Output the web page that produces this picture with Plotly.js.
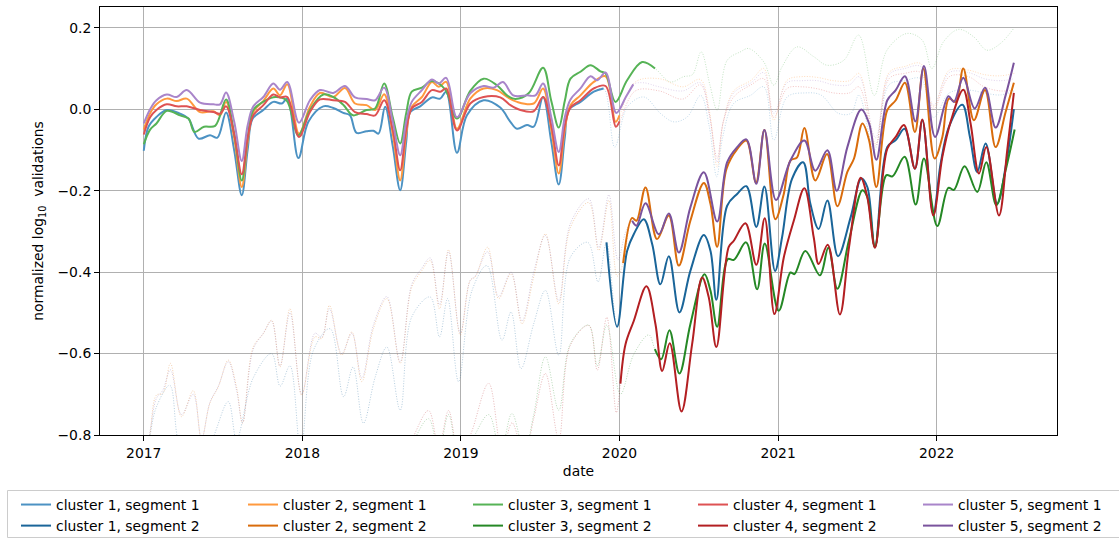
<!DOCTYPE html>
<html><head><meta charset="utf-8">
<script src="https://cdn.plot.ly/plotly-3.0.1.min.js"></script>
<style>html,body{margin:0;padding:0;background:#fff}#chart{width:1119px;height:538px}</style>
</head><body><div id="chart"></div>
<script>
// ---- categories / labels ----
const clusterNames = ['cluster 1', 'cluster 2', 'cluster 3', 'cluster 4', 'cluster 5'];
const segmentNames = ['segment 1', 'segment 2'];
const xTickVals = [2017, 2018, 2019, 2020, 2021, 2022];
const yTickVals = [-0.8, -0.6, -0.4, -0.2, 0.0, 0.2];

// ---- series values: [decimal year, normalized log10 validations] ----
const c1s1 = [[2017.0,-0.102],[2017.03,-0.043],[2017.08,-0.019],[2017.145,-0.002],[2017.229,-0.011],[2017.282,-0.023],[2017.345,-0.072],[2017.418,-0.064],[2017.464,-0.07],[2017.519,-0.008],[2017.57,-0.1],[2017.618,-0.211],[2017.655,-0.1],[2017.687,-0.023],[2017.754,-0.002],[2017.817,0.018],[2017.87,0.014],[2017.905,0.026],[2017.975,-0.12],[2018.038,-0.031],[2018.132,0.007],[2018.195,0.003],[2018.258,-0.009],[2018.3,-0.015],[2018.342,-0.058],[2018.405,-0.054],[2018.448,-0.053],[2018.48,-0.06],[2018.522,0.006],[2018.57,-0.09],[2018.617,-0.199],[2018.655,-0.08],[2018.68,-0.007],[2018.743,0.007],[2018.817,0.029],[2018.869,0.026],[2018.907,0.043],[2018.975,-0.107],[2019.038,-0.015],[2019.143,0.022],[2019.248,0.004],[2019.312,-0.031],[2019.354,-0.048],[2019.417,-0.039],[2019.459,-0.043],[2019.518,0.03],[2019.57,-0.08],[2019.617,-0.185],[2019.655,-0.07],[2019.68,-0.002],[2019.754,0.018],[2019.838,0.043],[2019.9,0.051],[2019.97,-0.093],[2020.05,0.006],[2020.154,0.03],[2020.26,-0.011],[2020.343,-0.031],[2020.427,-0.019],[2020.512,0.034],[2020.565,-0.04],[2020.613,-0.166],[2020.65,-0.07],[2020.72,0.014],[2020.826,0.034],[2020.91,0.055],[2020.973,-0.076],[2021.057,0.03],[2021.17,0.04],[2021.27,0.035],[2021.38,-0.01],[2021.46,-0.01],[2021.51,0.035],[2021.607,-0.1],[2021.7,0.06],[2021.8,0.07],[2021.9,0.075],[2021.98,-0.02],[2022.08,0.04],[2022.2,0.047],[2022.3,0.04],[2022.4,0.035],[2022.49,0.045]];
const c2s1 = [[2017.0,-0.05],[2017.04,-0.01],[2017.08,0.012],[2017.145,0.026],[2017.208,0.02],[2017.271,0.026],[2017.355,-0.007],[2017.439,-0.005],[2017.481,-0.015],[2017.519,0.018],[2017.57,-0.07],[2017.618,-0.191],[2017.655,-0.08],[2017.691,-0.007],[2017.754,0.02],[2017.817,0.051],[2017.859,0.034],[2017.905,0.061],[2017.979,-0.06],[2018.048,0.006],[2018.111,0.04],[2018.195,0.03],[2018.269,0.052],[2018.332,0.014],[2018.405,0.01],[2018.459,-0.002],[2018.516,0.037],[2018.57,-0.06],[2018.617,-0.175],[2018.655,-0.06],[2018.69,0.006],[2018.754,0.03],[2018.817,0.067],[2018.86,0.055],[2018.907,0.067],[2018.975,-0.048],[2019.059,0.026],[2019.143,0.051],[2019.227,0.047],[2019.291,0.03],[2019.354,0.018],[2019.459,0.014],[2019.518,0.051],[2019.57,-0.05],[2019.617,-0.158],[2019.655,-0.05],[2019.691,0.01],[2019.754,0.034],[2019.838,0.067],[2019.912,0.081],[2019.975,-0.031],[2020.0,-0.015],[2020.1,0.067],[2020.25,0.075],[2020.4,0.055],[2020.51,0.073],[2020.565,0.0],[2020.616,-0.142],[2020.655,-0.03],[2020.72,0.045],[2020.83,0.071],[2020.91,0.1],[2020.973,-0.027],[2021.057,0.071],[2021.15,0.08],[2021.25,0.078],[2021.35,0.07],[2021.45,0.07],[2021.51,0.088],[2021.615,-0.085],[2021.7,0.09],[2021.8,0.105],[2021.9,0.112],[2021.98,0.006],[2022.08,0.096],[2022.2,0.096],[2022.3,0.085],[2022.4,0.082],[2022.49,0.088]];
const c3s1 = [[2017.0,-0.086],[2017.04,-0.05],[2017.08,-0.035],[2017.145,-0.004],[2017.229,-0.015],[2017.282,-0.023],[2017.32,-0.056],[2017.38,-0.043],[2017.45,-0.041],[2017.519,0.024],[2017.57,-0.06],[2017.618,-0.175],[2017.655,-0.07],[2017.691,-0.002],[2017.77,0.022],[2017.83,0.03],[2017.9,0.022],[2017.975,-0.064],[2018.048,-0.002],[2018.132,0.036],[2018.195,0.03],[2018.258,0.011],[2018.32,-0.015],[2018.405,-0.002],[2018.459,0.002],[2018.516,0.063],[2018.57,-0.02],[2018.617,-0.084],[2018.655,-0.01],[2018.69,0.043],[2018.754,0.053],[2018.817,0.069],[2018.901,0.048],[2018.975,-0.023],[2019.059,0.045],[2019.143,0.075],[2019.227,0.059],[2019.291,0.034],[2019.343,0.025],[2019.427,0.039],[2019.518,0.102],[2019.57,0.02],[2019.617,-0.045],[2019.655,0.02],[2019.691,0.075],[2019.754,0.092],[2019.817,0.108],[2019.88,0.093],[2019.912,0.088],[2019.975,0.018],[2020.048,0.071],[2020.143,0.116],[2020.224,0.1],[2020.32,0.067],[2020.405,0.08],[2020.46,0.085],[2020.515,0.141],[2020.57,0.06],[2020.616,-0.002],[2020.679,0.12],[2020.763,0.141],[2020.815,0.149],[2020.91,0.116],[2020.973,0.059],[2021.025,0.104],[2021.12,0.153],[2021.225,0.129],[2021.309,0.108],[2021.414,0.12],[2021.508,0.182],[2021.607,0.034],[2021.687,0.145],[2021.813,0.186],[2021.908,0.17],[2021.97,0.1],[2022.044,0.166],[2022.139,0.196],[2022.233,0.178],[2022.317,0.145],[2022.401,0.161],[2022.485,0.198]];
const c4s1 = [[2017.0,-0.062],[2017.04,-0.02],[2017.08,-0.002],[2017.145,0.012],[2017.208,0.007],[2017.271,0.007],[2017.355,-0.002],[2017.439,-0.007],[2017.481,-0.011],[2017.519,0.007],[2017.57,-0.06],[2017.618,-0.16],[2017.655,-0.07],[2017.691,-0.015],[2017.754,0.01],[2017.817,0.036],[2017.859,0.029],[2017.905,0.03],[2017.979,-0.068],[2018.048,-0.007],[2018.111,0.024],[2018.195,0.022],[2018.269,0.018],[2018.332,-0.007],[2018.405,-0.012],[2018.459,-0.015],[2018.516,0.022],[2018.57,-0.05],[2018.617,-0.15],[2018.655,-0.05],[2018.69,0.002],[2018.754,0.018],[2018.817,0.047],[2018.87,0.043],[2018.907,0.051],[2018.975,-0.052],[2019.059,0.014],[2019.143,0.03],[2019.248,0.029],[2019.312,0.01],[2019.375,-0.002],[2019.459,-0.005],[2019.518,0.03],[2019.57,-0.04],[2019.617,-0.138],[2019.655,-0.04],[2019.691,0.004],[2019.754,0.022],[2019.838,0.051],[2019.912,0.057],[2019.977,-0.043],[2020.0,-0.03],[2020.1,0.045],[2020.25,0.045],[2020.4,0.025],[2020.51,0.06],[2020.565,-0.01],[2020.616,-0.12],[2020.655,-0.03],[2020.72,0.03],[2020.83,0.06],[2020.91,0.075],[2020.973,-0.02],[2021.057,0.051],[2021.15,0.055],[2021.25,0.05],[2021.35,0.04],[2021.45,0.04],[2021.51,0.055],[2021.615,-0.09],[2021.7,0.075],[2021.8,0.088],[2021.9,0.09],[2021.98,0.0],[2022.08,0.08],[2022.2,0.08],[2022.3,0.055],[2022.4,0.045],[2022.49,0.047]];
const c5s1 = [[2017.0,-0.035],[2017.04,0.0],[2017.08,0.022],[2017.145,0.036],[2017.208,0.03],[2017.271,0.047],[2017.355,0.016],[2017.439,0.012],[2017.481,0.012],[2017.519,0.041],[2017.57,-0.03],[2017.618,-0.127],[2017.655,-0.04],[2017.691,0.007],[2017.754,0.03],[2017.817,0.063],[2017.859,0.048],[2017.905,0.067],[2017.979,-0.033],[2018.048,0.022],[2018.111,0.047],[2018.195,0.04],[2018.269,0.057],[2018.332,0.029],[2018.405,0.025],[2018.459,0.022],[2018.516,0.053],[2018.57,-0.03],[2018.617,-0.113],[2018.655,-0.03],[2018.69,0.018],[2018.754,0.047],[2018.817,0.073],[2018.86,0.063],[2018.907,0.077],[2018.975,-0.02],[2019.059,0.039],[2019.143,0.057],[2019.206,0.053],[2019.265,0.067],[2019.33,0.034],[2019.42,0.034],[2019.47,0.034],[2019.518,0.063],[2019.57,-0.02],[2019.617,-0.105],[2019.655,-0.02],[2019.691,0.024],[2019.754,0.051],[2019.817,0.081],[2019.86,0.071],[2019.912,0.09],[2019.98,-0.009],[2020.04,0.03],[2020.087,0.061],[2020.15,0.065],[2020.25,0.055],[2020.4,0.045],[2020.51,0.065],[2020.565,-0.01],[2020.616,-0.13],[2020.655,-0.03],[2020.72,0.04],[2020.83,0.065],[2020.91,0.09],[2020.973,-0.01],[2021.057,0.065],[2021.15,0.07],[2021.25,0.07],[2021.35,0.06],[2021.45,0.06],[2021.51,0.08],[2021.615,-0.07],[2021.7,0.085],[2021.8,0.1],[2021.9,0.105],[2021.98,0.01],[2022.08,0.09],[2022.2,0.09],[2022.3,0.075],[2022.4,0.07],[2022.49,0.075]];

const c1s2 = [[2017.0,-0.9],[2017.04,-0.8],[2017.08,-0.731],[2017.164,-0.678],[2017.22,-0.82],[2017.3,-0.88],[2017.42,-0.82],[2017.533,-0.718],[2017.585,-0.81],[2017.69,-0.66],[2017.806,-0.6],[2017.86,-0.68],[2017.922,-0.63],[2017.99,-0.84],[2018.07,-0.592],[2018.175,-0.539],[2018.26,-0.706],[2018.32,-0.633],[2018.385,-0.771],[2018.46,-0.657],[2018.533,-0.584],[2018.617,-0.739],[2018.69,-0.51],[2018.806,-0.461],[2018.865,-0.559],[2018.916,-0.465],[2018.985,-0.669],[2019.07,-0.445],[2019.164,-0.384],[2019.259,-0.567],[2019.316,-0.498],[2019.379,-0.637],[2019.459,-0.527],[2019.533,-0.445],[2019.617,-0.604],[2019.691,-0.363],[2019.8,-0.327],[2019.865,-0.424],[2019.918,-0.327],[2019.985,-0.534],[2020.048,-0.348],[2020.09,-0.307],[2020.153,-0.27],[2020.206,-0.331],[2020.258,-0.43],[2020.311,-0.361],[2020.378,-0.499],[2020.447,-0.397],[2020.532,-0.309],[2020.574,-0.348],[2020.611,-0.468],[2020.679,-0.237],[2020.742,-0.208],[2020.8,-0.189],[2020.863,-0.289],[2020.914,-0.19],[2020.981,-0.397],[2021.025,-0.315],[2021.088,-0.171],[2021.158,-0.13],[2021.204,-0.233],[2021.256,-0.294],[2021.311,-0.224],[2021.378,-0.361],[2021.458,-0.265],[2021.525,-0.17],[2021.563,-0.191],[2021.611,-0.339],[2021.689,-0.093],[2021.742,-0.076],[2021.798,-0.048],[2021.863,-0.146],[2021.91,-0.027],[2021.979,-0.257],[2022.025,-0.134],[2022.078,-0.043],[2022.162,0.011],[2022.21,-0.068],[2022.256,-0.154],[2022.309,-0.084],[2022.382,-0.232],[2022.435,-0.142],[2022.487,0.0]];
const c2s2 = [[2017.0,-0.9],[2017.04,-0.796],[2017.08,-0.702],[2017.12,-0.698],[2017.168,-0.624],[2017.238,-0.755],[2017.312,-0.691],[2017.364,-0.81],[2017.417,-0.722],[2017.47,-0.682],[2017.533,-0.616],[2017.585,-0.682],[2017.623,-0.771],[2017.69,-0.584],[2017.754,-0.551],[2017.806,-0.518],[2017.859,-0.633],[2017.922,-0.49],[2017.996,-0.702],[2018.08,-0.559],[2018.122,-0.563],[2018.171,-0.482],[2018.248,-0.604],[2018.312,-0.547],[2018.375,-0.669],[2018.448,-0.539],[2018.533,-0.465],[2018.617,-0.624],[2018.69,-0.437],[2018.754,-0.396],[2018.806,-0.371],[2018.865,-0.49],[2018.922,-0.345],[2018.996,-0.555],[2019.059,-0.42],[2019.09,-0.412],[2019.168,-0.339],[2019.238,-0.465],[2019.316,-0.404],[2019.385,-0.527],[2019.459,-0.412],[2019.533,-0.306],[2019.617,-0.478],[2019.691,-0.29],[2019.806,-0.229],[2019.869,-0.347],[2019.933,-0.224],[2019.985,-0.41],[2020.023,-0.378],[2020.08,-0.267],[2020.107,-0.274],[2020.164,-0.192],[2020.237,-0.319],[2020.311,-0.261],[2020.374,-0.384],[2020.447,-0.274],[2020.532,-0.181],[2020.574,-0.233],[2020.616,-0.338],[2020.674,-0.147],[2020.742,-0.098],[2020.8,-0.077],[2020.861,-0.18],[2020.914,-0.051],[2020.983,-0.27],[2021.036,-0.208],[2021.078,-0.126],[2021.12,-0.118],[2021.166,-0.046],[2021.235,-0.175],[2021.309,-0.11],[2021.374,-0.238],[2021.437,-0.154],[2021.479,-0.121],[2021.532,-0.035],[2021.574,-0.076],[2021.62,-0.191],[2021.689,-0.002],[2021.742,0.022],[2021.8,0.065],[2021.863,-0.056],[2021.916,0.1],[2021.987,-0.121],[2022.036,-0.068],[2022.078,0.026],[2022.12,0.018],[2022.168,0.1],[2022.235,-0.027],[2022.305,0.047],[2022.372,-0.093],[2022.435,-0.007],[2022.487,0.065]];
const c3s2 = [[2018.5,-0.95],[2018.68,-0.83],[2018.796,-0.76],[2018.86,-0.84],[2018.922,-0.75],[2018.99,-0.86],[2019.06,-0.82],[2019.175,-0.75],[2019.25,-0.84],[2019.322,-0.747],[2019.4,-0.84],[2019.459,-0.75],[2019.533,-0.608],[2019.617,-0.739],[2019.69,-0.576],[2019.806,-0.53],[2019.86,-0.63],[2019.92,-0.53],[2020.006,-0.7],[2020.09,-0.602],[2020.185,-0.554],[2020.223,-0.589],[2020.263,-0.614],[2020.315,-0.543],[2020.378,-0.649],[2020.447,-0.528],[2020.536,-0.405],[2020.574,-0.446],[2020.616,-0.534],[2020.683,-0.368],[2020.721,-0.37],[2020.798,-0.327],[2020.868,-0.442],[2020.916,-0.33],[2021.004,-0.495],[2021.078,-0.401],[2021.103,-0.405],[2021.172,-0.348],[2021.264,-0.408],[2021.317,-0.34],[2021.374,-0.441],[2021.447,-0.322],[2021.532,-0.199],[2021.563,-0.216],[2021.611,-0.337],[2021.683,-0.162],[2021.721,-0.165],[2021.798,-0.117],[2021.868,-0.234],[2021.92,-0.121],[2022.004,-0.287],[2022.074,-0.193],[2022.109,-0.198],[2022.176,-0.14],[2022.256,-0.203],[2022.313,-0.13],[2022.376,-0.236],[2022.435,-0.15],[2022.492,-0.05]];
const c4s2 = [[2018.5,-0.95],[2018.68,-0.82],[2018.796,-0.74],[2018.86,-0.83],[2018.922,-0.74],[2018.99,-0.85],[2019.06,-0.8],[2019.175,-0.673],[2019.26,-0.84],[2019.322,-0.77],[2019.4,-0.85],[2019.459,-0.76],[2019.533,-0.649],[2019.617,-0.81],[2019.69,-0.58],[2019.806,-0.531],[2019.86,-0.641],[2019.92,-0.511],[2019.98,-0.745],[2020.006,-0.674],[2020.038,-0.577],[2020.09,-0.52],[2020.17,-0.435],[2020.227,-0.528],[2020.269,-0.643],[2020.317,-0.575],[2020.391,-0.742],[2020.458,-0.577],[2020.521,-0.413],[2020.563,-0.462],[2020.611,-0.584],[2020.689,-0.338],[2020.721,-0.323],[2020.794,-0.28],[2020.863,-0.382],[2020.916,-0.268],[2020.977,-0.503],[2021.036,-0.364],[2021.099,-0.274],[2021.166,-0.194],[2021.225,-0.315],[2021.256,-0.38],[2021.313,-0.333],[2021.39,-0.504],[2021.447,-0.34],[2021.521,-0.168],[2021.563,-0.216],[2021.611,-0.34],[2021.689,-0.097],[2021.742,-0.068],[2021.794,-0.039],[2021.863,-0.146],[2021.91,-0.025],[2021.979,-0.261],[2022.036,-0.117],[2022.088,-0.031],[2022.168,0.048],[2022.214,-0.035],[2022.267,-0.158],[2022.313,-0.093],[2022.393,-0.261],[2022.445,-0.101],[2022.487,0.04]];
const c5s2 = [[2017.0,-0.89],[2017.04,-0.79],[2017.08,-0.71],[2017.12,-0.69],[2017.168,-0.64],[2017.238,-0.75],[2017.312,-0.7],[2017.364,-0.81],[2017.417,-0.72],[2017.47,-0.68],[2017.533,-0.62],[2017.585,-0.69],[2017.623,-0.77],[2017.69,-0.59],[2017.754,-0.55],[2017.806,-0.52],[2017.859,-0.63],[2017.922,-0.5],[2017.996,-0.7],[2018.08,-0.55],[2018.122,-0.56],[2018.171,-0.49],[2018.248,-0.6],[2018.312,-0.55],[2018.375,-0.66],[2018.448,-0.53],[2018.533,-0.46],[2018.617,-0.62],[2018.69,-0.43],[2018.754,-0.39],[2018.806,-0.365],[2018.865,-0.48],[2018.922,-0.35],[2018.996,-0.55],[2019.059,-0.42],[2019.09,-0.41],[2019.168,-0.35],[2019.238,-0.46],[2019.316,-0.4],[2019.385,-0.52],[2019.459,-0.4],[2019.533,-0.31],[2019.617,-0.47],[2019.691,-0.28],[2019.806,-0.22],[2019.869,-0.34],[2019.933,-0.21],[2019.99,-0.37],[2020.04,-0.3],[2020.08,-0.274],[2020.107,-0.286],[2020.164,-0.231],[2020.248,-0.307],[2020.311,-0.256],[2020.374,-0.352],[2020.447,-0.241],[2020.532,-0.155],[2020.616,-0.276],[2020.679,-0.13],[2020.742,-0.093],[2020.8,-0.074],[2020.863,-0.183],[2020.914,-0.051],[2020.987,-0.223],[2021.078,-0.126],[2021.166,-0.077],[2021.235,-0.151],[2021.311,-0.101],[2021.37,-0.2],[2021.437,-0.093],[2021.525,-0.001],[2021.574,-0.035],[2021.62,-0.124],[2021.689,0.022],[2021.742,0.047],[2021.8,0.081],[2021.866,-0.03],[2021.92,0.106],[2021.99,-0.068],[2022.074,0.032],[2022.109,0.018],[2022.168,0.077],[2022.24,0.002],[2022.305,0.053],[2022.372,-0.045],[2022.435,0.034],[2022.487,0.114]];

// fitted (solid) spans per series, in decimal years
const seg1Series = [c1s1, c2s1, c3s1, c4s1, c5s1];
const seg2Series = [c1s2, c2s2, c3s2, c4s2, c5s2];
const seg1SolidEnd = [2019.9, 2020.0, 2020.224, 2020.0, 2020.087];
const seg2SolidStart = [2019.918, 2020.023, 2020.223, 2020.006, 2020.08];

// ---- styles ----
const seg1Colors = ['#4c92c3', '#ff993e', '#56b356', '#de5253', '#a985ca'];
const seg2Colors = ['#1a6599', '#d96c0c', '#258825', '#b31f22', '#7a539d'];
const FONT = 'DejaVu Sans, Liberation Sans, sans-serif';
const FS = 13.9;

const xs = s => s.map(p => p[0]);
const ys = s => s.map(p => p[1]);

const traces = [];
// faint (extrapolated) curves first, underneath
for (let i = 0; i < 5; i++) {
  traces.push({x: xs(seg1Series[i]), y: ys(seg1Series[i]), type: 'scatter', mode: 'lines',
    line: {color: seg1Colors[i], width: 1, dash: '1px,1.6px', shape: 'spline', smoothing: 1},
    opacity: 0.35, showlegend: false, hoverinfo: 'skip'});
  traces.push({x: xs(seg2Series[i]), y: ys(seg2Series[i]), type: 'scatter', mode: 'lines',
    line: {color: seg2Colors[i], width: 1, dash: '1px,1.6px', shape: 'spline', smoothing: 1},
    opacity: 0.32, showlegend: false, hoverinfo: 'skip'});
}
const legendIds = ['legend', 'legend2', 'legend3', 'legend4', 'legend5'];
for (let i = 0; i < 5; i++) {
  const a = seg1Series[i].filter(p => p[0] <= seg1SolidEnd[i] + 1e-9);
  traces.push({x: xs(a), y: ys(a), type: 'scatter', mode: 'lines',
    name: clusterNames[i] + ', ' + segmentNames[0], legend: legendIds[i],
    line: {color: seg1Colors[i], width: 2, shape: 'spline', smoothing: 1}});
  const b = seg2Series[i].filter(p => p[0] >= seg2SolidStart[i] - 1e-9);
  traces.push({x: xs(b), y: ys(b), type: 'scatter', mode: 'lines',
    name: clusterNames[i] + ', ' + segmentNames[1], legend: legendIds[i],
    line: {color: seg2Colors[i], width: 2, shape: 'spline', smoothing: 1}});
}

// legend columns (paper coords)
const W = 957, H = 428, L = 100, T = 7;
const px2x = p => (p - L) / W;
const py2y = p => (T + H - p) / H;
const legendTextLeft = [56, 283, 508, 733, 958];
const layout = {
  width: 1119, height: 538,
  margin: {l: 100, r: 62, t: 7, b: 103, pad: 0, autoexpand: false},
  paper_bgcolor: '#fff', plot_bgcolor: '#fff',
  font: {family: FONT, size: FS, color: '#000'},
  xaxis: {
    range: [2016.724, 2022.759], tickvals: xTickVals, ticktext: xTickVals.map(String),
    showgrid: true, gridcolor: '#b0b0b0', gridwidth: 1, zeroline: false,
    showline: true, linecolor: '#000', linewidth: 1, mirror: true,
    ticks: 'outside', ticklen: 5, tickwidth: 1, tickcolor: '#000',
    tickfont: {family: FONT, size: FS, color: '#000'},
    title: {text: 'date', font: {family: FONT, size: FS, color: '#000'}, standoff: 6},
    automargin: false
  },
  yaxis: {
    range: [-0.8, 0.251], tickvals: yTickVals, tickformat: '.1f',
    showgrid: true, gridcolor: '#b0b0b0', gridwidth: 1, zeroline: false,
    showline: true, linecolor: '#000', linewidth: 1, mirror: true,
    ticks: 'outside', ticklen: 5, tickwidth: 1, tickcolor: '#000',
    tickfont: {family: FONT, size: FS, color: '#000'},
    title: {text: 'normalized log<sub>10</sub>  validations', font: {family: FONT, size: FS, color: '#000'}, standoff: 10},
    automargin: false
  },
  shapes: [{type: 'rect', xref: 'paper', yref: 'paper',
    x0: px2x(7.5), x1: px2x(1125), y0: py2y(490.5), y1: py2y(537.5),
    line: {color: '#cccccc', width: 1}, fillcolor: 'rgba(255,255,255,0.8)', layer: 'above'}],
  hovermode: false
};
legendIds.forEach((id, i) => {
  layout[id] = {x: px2x(legendTextLeft[i] - 40), y: py2y(489), xanchor: 'left', yanchor: 'top',
    orientation: 'v', bgcolor: 'rgba(0,0,0,0)', borderwidth: 0,
    font: {family: FONT, size: FS, color: '#000'}, tracegroupgap: 0, traceorder: 'normal'};
});

Plotly.newPlot('chart', traces, layout, {displayModeBar: false, staticPlot: true});
</script>
</body></html>
